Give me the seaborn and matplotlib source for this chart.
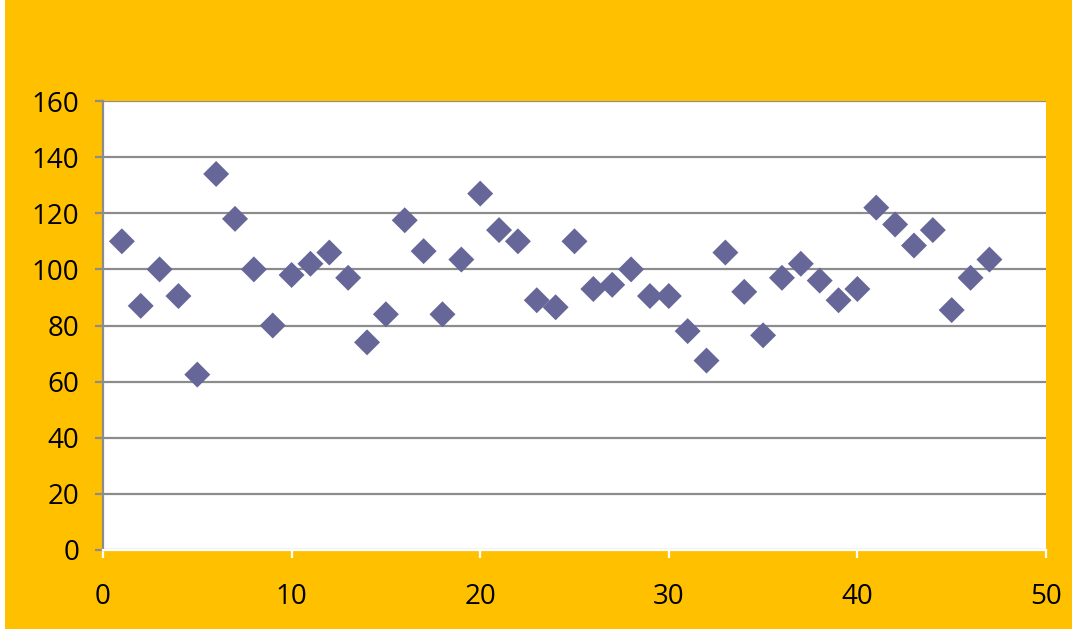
import matplotlib
matplotlib.use("Agg")
import matplotlib.pyplot as plt
import seaborn as sns
import pandas as pd
from matplotlib.patches import Rectangle

# Sample index and measured value
x_values = list(range(1, 48))
y_values = [110, 87, 100, 90.5, 62.5, 134, 118, 100, 80, 98,
            102, 106, 97, 74, 84, 117.5, 106.5, 84, 103.5, 127,
            114, 110, 89, 86.5, 110, 93, 94.5, 100, 90.5, 90.5,
            78, 67.5, 106, 92, 76.5, 97, 102, 96, 89, 93,
            122, 116, 108.5, 114, 85.5, 97, 103.5]

x_ticks = [0, 10, 20, 30, 40, 50]
y_ticks = [0, 20, 40, 60, 80, 100, 120, 140, 160]

df = pd.DataFrame({"x": x_values, "y": y_values})

sns.set_style("white")
plt.rcParams["font.family"] = ["Open Sans", "DejaVu Sans"]

bg = "#FFC000"
grid_c = "#8C8C8C"
fig = plt.figure(figsize=(10.72, 6.29), dpi=100, facecolor=bg)
# thin white strip along the left edge of the canvas
fig.patches.append(Rectangle((0, 0), 5 / 1072, 1, transform=fig.transFigure,
                             facecolor="white", edgecolor="none", zorder=0))
ax = fig.add_axes([103 / 1072, 79 / 629, 943 / 1072, 449 / 629])
ax.set_facecolor("white")

sns.scatterplot(data=df, x="x", y="y", marker="D", s=175, color="#666699",
                edgecolor="none", ax=ax, zorder=3, legend=False)

ax.set_xlim(0, 50)
ax.set_ylim(0, 160)
ax.set_xticks(x_ticks)
ax.set_yticks(y_ticks)
ax.set_xlabel("")
ax.set_ylabel("")

ax.grid(axis="y", color=grid_c, linewidth=1.6, zorder=1)
ax.grid(axis="x", visible=False)

for side in ["top", "right"]:
    ax.spines[side].set_visible(False)
ax.spines["left"].set_color(grid_c)
ax.spines["left"].set_linewidth(1.6)
ax.spines["bottom"].set_color("white")
ax.spines["bottom"].set_linewidth(1.6)

ax.tick_params(axis="y", direction="out", length=6, width=1.6, color=grid_c,
               pad=11, labelsize=20, labelcolor="black", left=True)
ax.tick_params(axis="x", direction="out", length=6, width=1.6, color="white",
               pad=18, labelsize=20, labelcolor="black", bottom=True)

fig.savefig("out.png", dpi=100, facecolor=bg)
